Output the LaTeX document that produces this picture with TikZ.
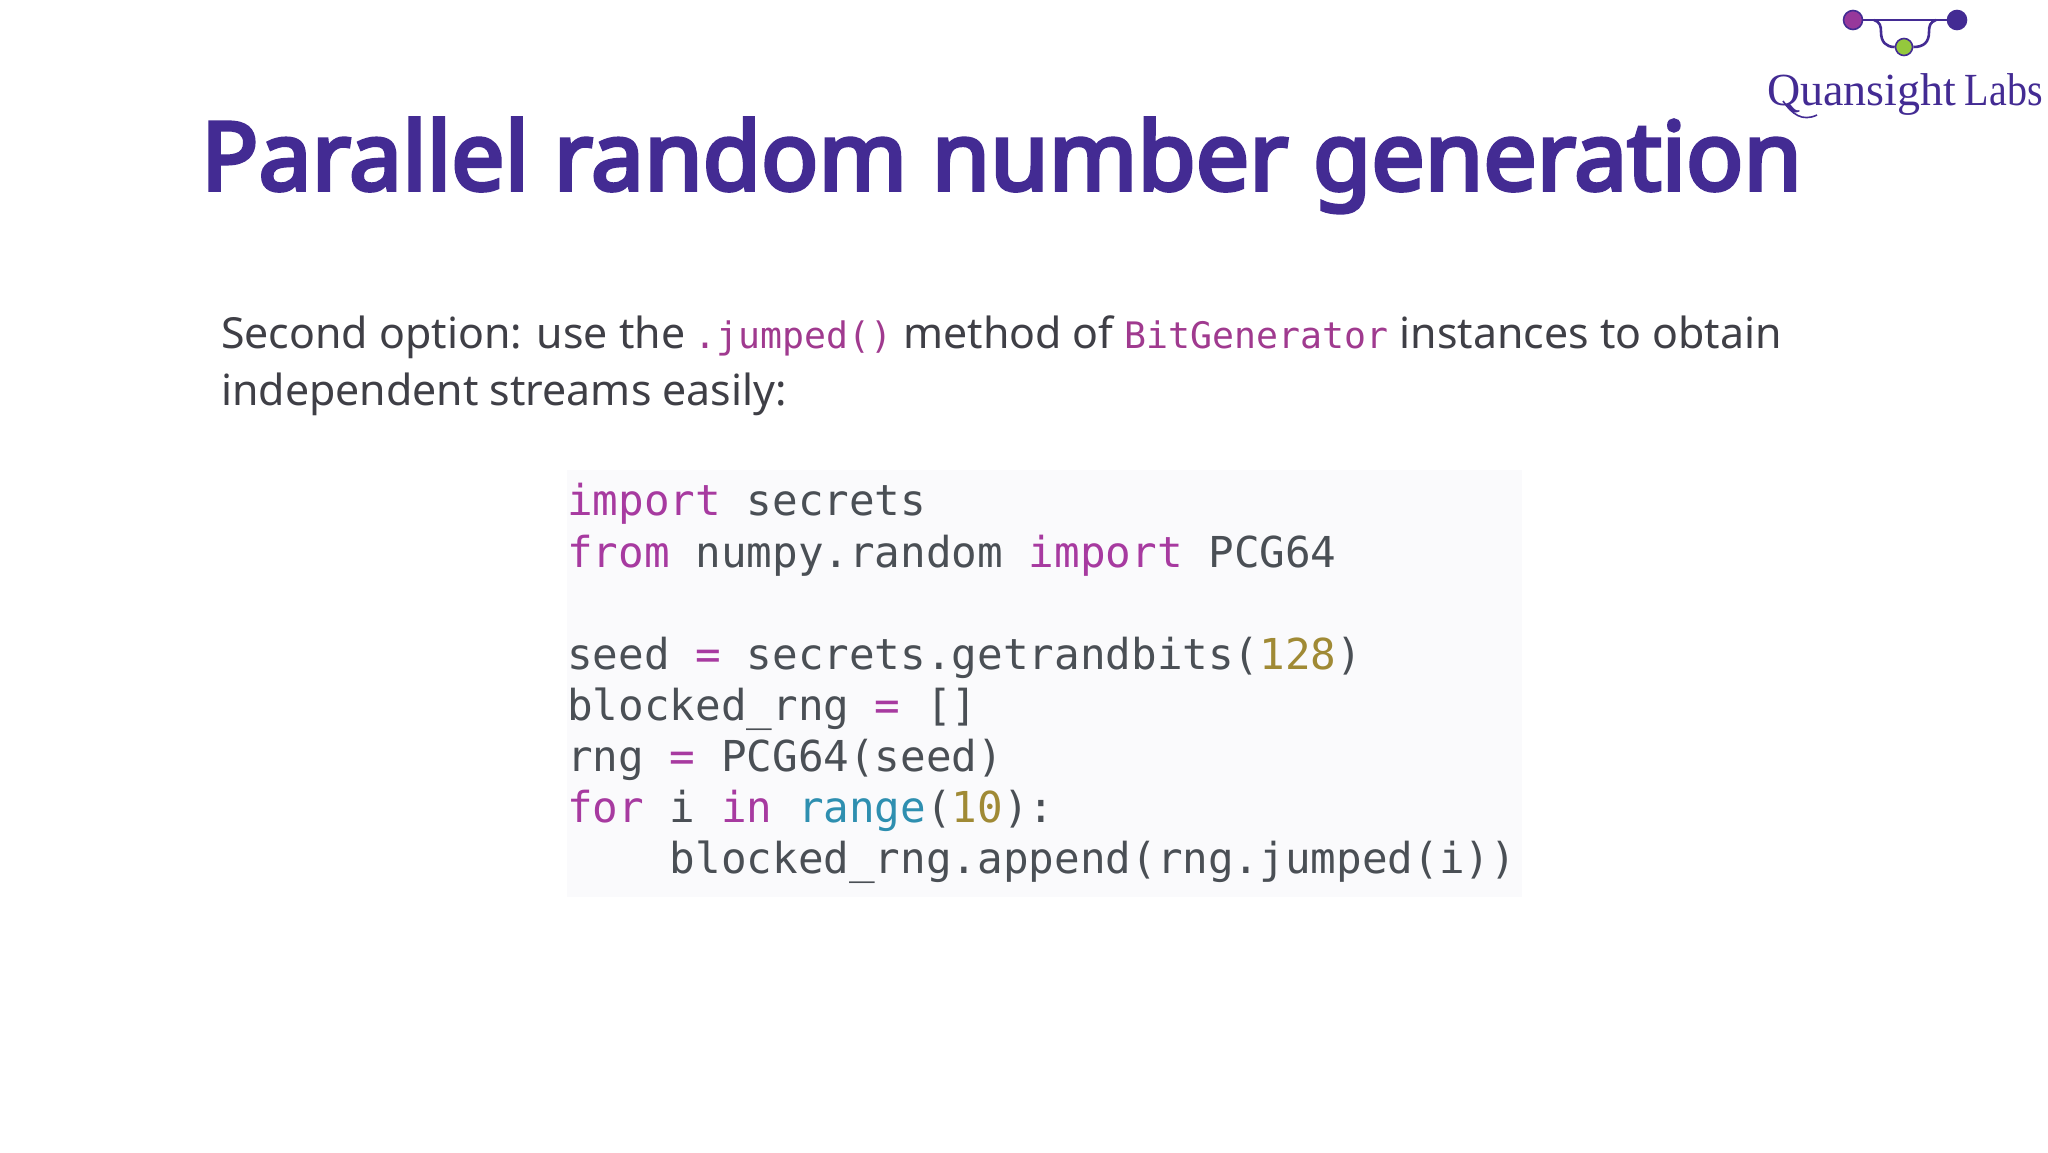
\documentclass[tikz,border=0pt]{standalone}
\usepackage{fontspec}
\setmainfont{Noto Sans}
\newfontfamily\titlefont[FakeBold=4]{Noto Sans}
\newfontfamily\codefont{DejaVu Sans Mono}
\newfontfamily\logofont{Liberation Serif}
\newfontfamily\logofontn[FakeStretch=0.87]{Liberation Serif}
\definecolor{titlec}{HTML}{432B93}
\definecolor{bodyc}{HTML}{3F3F46}
\definecolor{inl}{HTML}{A03A8F}
\definecolor{codec}{HTML}{4A4F55}
\definecolor{kw}{HTML}{A73AA0}
\definecolor{num}{HTML}{A08A35}
\definecolor{fn}{HTML}{2E8FB0}
\definecolor{boxc}{HTML}{FAFAFC}
\definecolor{logop}{HTML}{97389B}
\definecolor{logob}{HTML}{432B93}
\definecolor{logog}{HTML}{94C83D}
\newcommand{\K}[1]{\textcolor{kw}{#1}}
\newcommand{\N}[1]{\textcolor{num}{#1}}
\newcommand{\F}[1]{\textcolor{fn}{#1}}
\newcommand{\I}[1]{{\fontsize{36.5}{36.5}\codefont\textcolor{inl}{#1}}}
\tikzset{
  x=1pt,y=-1pt,
  codeline/.style={anchor=base west,inner sep=0pt,text=codec,font=\fontsize{42.6}{42.6}\codefont},
  bodyline/.style={anchor=base west,inner sep=0pt,text=bodyc,font=\fontsize{42.85}{42.85}\selectfont},
  dot/.style={circle,draw=logob,line width=1.6pt,minimum size=#1,inner sep=0pt},
  wire/.style={draw=logob,line width=2.6pt}
}
\begin{document}
\begin{tikzpicture}
\useasboundingbox (0,0) rectangle (2048,1152);
\fill[white] (0,0) rectangle (2048,1152);
\fill[boxc] (567,470) rectangle (1522,897);
\node[anchor=base west,inner sep=0pt,text=titlec,font=\fontsize{94.8}{94.8}\titlefont] (title) at (201,190) {Parallel random number generation};
\node[bodyline] (b1) at (221,348) {Second option: use the\hspace{-2pt} \I{.jumped()} method of \I{BitGenerator} instances to obtain};
\node[bodyline] (b2) at (221,405) {independent streams easily:};
\node[codeline] (c1) at (567,515) {\K{import} secrets};
\node[codeline] (c2) at (567,567) {\K{from} numpy.random \K{import} PCG64};
\node[codeline] (c4) at (567,669) {seed \K{=} secrets.getrandbits(\N{128})};
\node[codeline] (c5) at (567,720) {blocked\_rng \K{=} []};
\node[codeline] (c6) at (567,771) {rng \K{=} PCG64(seed)};
\node[codeline] (c7) at (567,822) {\K{for} i \K{in} \F{range}(\N{10}):};
\node[codeline] (c8) at (567,873) {\phantom{0000}blocked\_rng.append(rng.jumped(i))};
% logo
\node[dot=19pt,fill=logop] (lp) at (1853,20) {};
\node[dot=19pt,fill=logob] (lb) at (1957,20) {};
\node[dot=17pt,fill=logog] (lg) at (1904,47) {};
\draw[wire] (lp) -- (lb);
\draw[wire] (1874,20) .. controls (1880,22) and (1881,26) .. (1881,32) .. controls (1881,42) and (1886,47) .. (lg.west);
\draw[wire] (1936,20) .. controls (1930,22) and (1929,26) .. (1929,32) .. controls (1929,42) and (1924,47) .. (lg.east);
\node[anchor=base west,inner sep=0pt,text=logob,font=\fontsize{46}{46}\logofont] (lt) at (1767,105) {Quansight\hspace{-3pt} {\logofontn Labs}};
\draw[logob,line width=1.6pt] (1783,101) .. controls (1792,114) and (1802,122) .. (1817,115);
\end{tikzpicture}
\end{document}
